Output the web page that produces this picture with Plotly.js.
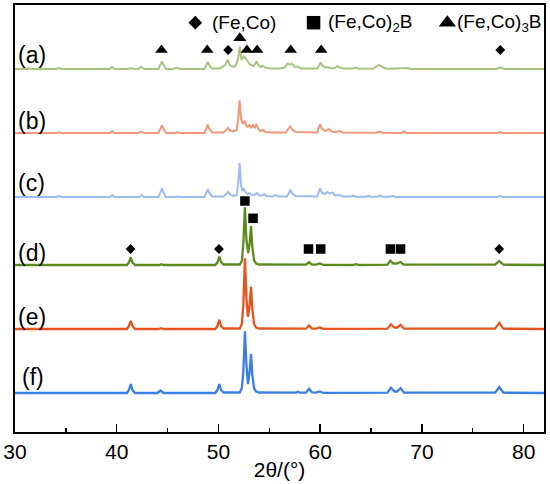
<!DOCTYPE html>
<html>
<head>
<meta charset="utf-8">
<script src="https://cdn.plot.ly/plotly-3.0.1.min.js"></script>
<style>html,body{margin:0;padding:0;background:#fff;}#chart{width:550px;height:484px;}</style>
</head>
<body>
<div id="chart"></div>
<script>
// ---- data (intensity above each pattern's own baseline) ----
const seriesNames = ['(a)', '(b)', '(c)', '(d)', '(e)', '(f)'];
const offsets = [363, 299, 235, 167, 103, 39];

const twoTheta_a = [30,31.2,31.4,31.6,34.0,34.3,34.6,39.3,39.55,39.8,41.0,41.4,41.7,42.1,42.4,42.7,44.1,44.3,44.45,44.6,44.85,45.5,45.9,46.3,48.6,48.8,48.95,49.1,49.35,50.0,50.3,50.7,50.9,51.1,51.4,51.7,51.95,52.1,52.25,52.4,52.5,52.65,52.85,53.1,53.45,53.6,53.75,53.9,54.15,54.4,54.6,55.0,56.0,56.5,56.8,57.0,57.25,57.5,57.8,58.1,59.7,59.9,60.05,60.25,60.55,60.8,61.0,61.4,61.7,61.9,62.3,63.2,63.5,63.8,65.2,65.8,66.2,66.6,68.3,68.6,68.9,77.3,77.7,78.1,82];
const intensity_a = [0,0,0.8,0,0,1,0,0,2,0,0,0.8,0,0,2.2,0,0,4,7.6,4,0,0,1.2,0,0,3.5,7,3.5,0.5,0.5,1.5,4.5,9.3,4,2,3,12,22.6,10,11,13.3,11,8,4.5,3,5,7.6,4,2,3,1.5,0.5,0.5,1.5,5.5,4.5,5,2,2.5,0.5,0.5,3.5,6.6,3,1.5,1.8,0.8,0.8,3,1.5,0.5,0.5,1.5,0.3,0.5,4,1.5,0.3,0.3,1,0,0,1.5,0,0];

const twoTheta_b = [30,34.0,34.3,34.6,39.3,39.55,39.8,42.1,42.4,42.7,44.1,44.3,44.45,44.6,44.85,45.7,46.0,46.3,48.6,48.8,48.95,49.1,49.4,50.5,50.8,50.95,51.15,51.5,51.8,51.95,52.08,52.22,52.4,52.58,52.75,52.9,53.05,53.2,53.38,53.55,53.72,53.9,54.15,54.4,54.6,55.2,56.6,56.85,57.05,57.25,57.6,59.7,59.85,60.0,60.15,60.5,60.85,61.15,61.5,61.9,62.2,63.3,63.6,63.9,65.5,65.8,66.2,68.0,68.2,68.5,77.4,77.7,78.0,82];
const intensity_b = [0,0,0.8,0,0,1.8,0,0,1.5,0,0,4,7.6,4,0,0,0.8,0,0,4,8.3,4,0.5,0.5,3,5,2.5,1.5,3,15,32.6,14,9,12.3,7,6,8,5.5,8,5,9,4,2,3,1,0.5,0.5,3.5,6.6,3.5,1,0.5,4.5,9,4.5,2,4,1.5,0.8,2,0.5,0.5,1,0.3,0.3,1.5,0.3,0,1.5,0,0,1,0,0];

const twoTheta_c = [30,34.0,34.3,34.6,39.3,39.55,39.8,42.2,42.45,42.7,44.1,44.3,44.45,44.6,44.85,45.7,46.0,46.3,48.6,48.8,48.95,49.1,49.4,50.5,50.8,50.95,51.15,51.5,51.8,51.95,52.08,52.22,52.35,52.5,52.65,52.85,53.0,53.2,53.5,53.8,54.0,54.3,54.5,54.7,55.3,55.6,55.9,56.7,56.9,57.08,57.25,57.6,59.7,59.85,60.0,60.15,60.45,60.7,60.95,61.2,61.45,61.9,62.2,63.0,63.25,63.5,64.5,64.75,65.0,65.6,65.85,66.1,66.9,67.1,67.4,77.4,77.7,78.0,82];
const intensity_c = [0,0,0.8,0,0,1.8,0,0,1.8,0,0,4,8.3,4,0,0,0.6,0,0,4,8,4,0.5,0.5,3,5,2.5,1,2,15,34,12,6,8,5,3,4,2.5,2,4,1.5,1.5,3,1,0.5,2,0.5,0.5,3.5,7.3,3.5,1,0.5,4.5,9,4.5,3,5,3.5,4.5,1.5,2,0.5,0.5,1.5,0.3,0.3,1.3,0.3,0.3,1.5,0.3,0.3,1.2,0,0,1,0,0];

const twoTheta_d = [30,41.0,41.2,41.38,41.55,41.8,44.2,44.4,44.6,49.7,49.9,50.08,50.25,50.5,52.1,52.3,52.45,52.6,52.75,52.92,53.05,53.2,53.33,53.5,53.7,54.0,58.6,58.9,59.2,59.6,59.95,60.3,63.2,63.5,63.8,66.6,66.9,67.2,67.5,67.9,68.2,77.2,77.6,78.0,82];
const intensity_d = [0,0,2.5,7.7,2.5,0,0,0.8,0,0,2.5,8.3,3,0.5,0.5,4,22,57.7,25,12,20,39,18,5,1.5,0.5,0.3,2.7,0.5,0.3,1.5,0.2,0,0.8,0,0.3,4.3,1.5,1.5,3,0.3,0.3,4,0.3,0];

const twoTheta_e = [30,41.0,41.2,41.38,41.55,41.8,44.1,44.35,44.6,49.7,49.9,50.08,50.25,50.5,52.1,52.3,52.45,52.6,52.75,52.9,53.05,53.2,53.33,53.5,53.7,54.0,58.6,58.9,59.2,59.6,59.95,60.3,66.6,66.95,67.3,67.55,67.9,68.25,77.2,77.6,78.0,82];
const intensity_e = [0,0,3,8.1,3,0,0,0.8,0,0,3,9.2,3,0.5,0.5,5,25,70.7,30,12.3,22,42.3,20,5,1.5,0.5,0.3,3.5,0.5,0.3,1.5,0.2,0.3,4.6,1.5,1.5,4.2,0.3,0.3,6.3,0.3,0];

const twoTheta_f = [30,41.0,41.2,41.38,41.55,41.8,44.0,44.3,44.6,49.7,49.9,50.08,50.25,50.5,52.1,52.3,52.45,52.6,52.75,52.9,53.05,53.2,53.33,53.5,53.7,54.0,57.6,57.8,58.0,58.6,58.9,59.2,59.6,59.95,60.3,66.6,66.95,67.3,67.55,67.9,68.25,77.2,77.6,78.0,82];
const intensity_f = [0,0,3,8.8,3,0,0,2.5,0,0,3,8.8,3,0.5,0.5,5,22,61.6,28,9,20,39,18,5,1.5,0.5,0.3,1.2,0.3,0.3,4.2,0.5,0.3,1.5,0.2,0.3,5.3,1.5,1.5,4.9,0.3,0.3,6,0.3,0];

// phase markers
const triA_x = [44.4, 48.9, 52.8, 53.8, 57.1, 60.1];
const triA_top_x = [52.1];
const diaA_x = [50.95, 77.7];
const diaD_x = [41.36, 50.05, 77.6];
const sqD_x = [58.85, 60.05, 66.9, 67.9];
const sqD_peak_x = [52.6, 53.4];
const sqD_peak_y = [231, 213.7];
const markerRowA = 382, markerTopA = 394, markerRowD = 183;

const legendLabels = ['(Fe,Co)', '(Fe,Co)<sub>2</sub>B', '(Fe,Co)<sub>3</sub>B'];
const legendSymbols = ['diamond', 'square', 'triangle-up'];
const legendSymbolX = [47.72, 59.35, 72.5];
const legendTextX = [49.2, 60.55, 73.25];
const legendY = 409.3;

const tickVals = [30,40,50,60,70,80];

// ---- build ----
const colors = ['#a9c47f', '#f2977a', '#9bbcf0', '#5c8a1e', '#e4541c', '#3b7fe4'];
const widths = [2, 2, 2, 2.3, 2.3, 2.3];
const xs = [twoTheta_a, twoTheta_b, twoTheta_c, twoTheta_d, twoTheta_e, twoTheta_f];
const ys = [intensity_a, intensity_b, intensity_c, intensity_d, intensity_e, intensity_f];

const traces = xs.map((x, i) => ({
  x: x, y: ys[i].map(v => v + offsets[i]),
  type: 'scatter', mode: 'lines', hoverinfo: 'skip',
  line: {color: colors[i], width: widths[i], shape: 'linear'},
  showlegend: false
}));

function mk(x, y, sym, size) {
  return {x: x, y: x.map(() => y), type: 'scatter', mode: 'markers', showlegend: false, hoverinfo: 'skip',
    marker: {symbol: sym, size: size, color: '#000', line: {width: 0}}};
}
traces.push(mk(triA_x, markerRowA, 'triangle-up', 11));
traces.push(mk(triA_top_x, markerTopA, 'triangle-up', 11.5));
traces.push(mk(diaA_x, markerRowA, 'diamond', 7.5));
traces.push(mk(diaD_x, markerRowD, 'diamond', 7.5));
traces.push(mk(sqD_x, markerRowD, 'square', 9.5));
traces.push({x: sqD_peak_x, y: sqD_peak_y, type: 'scatter', mode: 'markers', showlegend: false, hoverinfo: 'skip',
  marker: {symbol: 'square', size: 9.5, color: '#000'}});
legendSymbolX.forEach((x, i) => traces.push(mk([x], legendY, legendSymbols[i], [10.5, 13.5, 15][i])));

const font = 'Liberation Sans';
const labelY = [377, 311, 249, 179, 115, 55];
const labelX = [30.1, 30.1, 30.1, 30.1, 30.1, 30.5];
const annotations = seriesNames.map((t, i) => ({
  text: t, x: labelX[i], y: labelY[i], xref: 'x', yref: 'y', xanchor: 'left', yanchor: 'middle',
  showarrow: false, font: {family: font, size: 23, color: '#000'}
}));
legendLabels.forEach((t, i) => annotations.push({
  text: t, x: legendTextX[i], y: legendY, xref: 'x', yref: 'y', xanchor: 'left', yanchor: 'middle',
  showarrow: false, font: {family: font, size: 19, color: '#000'}
}));

const layout = {
  width: 550, height: 484,
  margin: {l: 15, r: 6, t: 5, b: 52},
  paper_bgcolor: '#fff', plot_bgcolor: '#fff',
  font: {family: font, color: '#000'},
  xaxis: {
    range: [30, 82], tickvals: tickVals, ticktext: tickVals.map(String),
    ticks: 'inside', ticklen: 8, tickwidth: 1.4, tickcolor: '#000',
    minor: {tickvals: [35,45,55,65,75], ticks: 'inside', ticklen: 4, tickwidth: 1.4, tickcolor: '#000'},
    showline: true, linecolor: '#000', linewidth: 1.8, mirror: true,
    showgrid: false, zeroline: false,
    tickfont: {family: font, size: 21, color: '#000'},
    title: {text: '2θ/(°)', font: {family: font, size: 21, color: '#000'}, standoff: 0}
  },
  yaxis: {
    range: [0, 427], showticklabels: false, ticks: '', showgrid: false, zeroline: false,
    showline: true, linecolor: '#000', linewidth: 1.8, mirror: true
  },
  annotations: annotations
};

Plotly.newPlot('chart', traces, layout, {displayModeBar: false, staticPlot: true});
</script>
</body>
</html>
